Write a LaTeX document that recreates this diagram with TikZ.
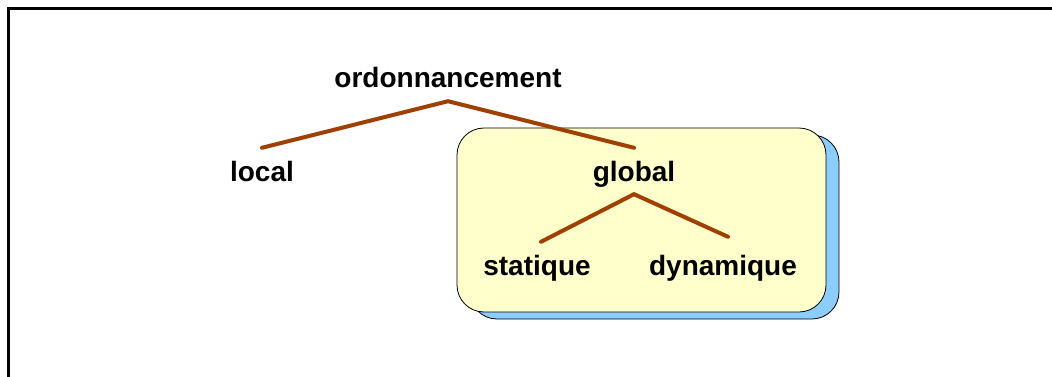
\documentclass[tikz,border=0pt]{standalone}
\usepackage{fontspec}
\setmainfont{Liberation Sans}
\begin{document}
\begin{tikzpicture}[x=1pt,y=-1pt,
  lbl/.style={font=\fontsize{28}{32}\selectfont\bfseries, text height=20pt, text depth=0pt,
              inner xsep=0pt, inner ysep=13pt, anchor=base},
  conn/.style={draw=brownline, line width=4pt, line cap=round, line join=miter},
  panel/.style={draw=black, line width=0.8pt, rounded corners=27pt}]
\definecolor{brownline}{RGB}{160,64,0}
\definecolor{panelfill}{RGB}{255,255,204}
\definecolor{shadowfill}{RGB}{140,204,255}
\useasboundingbox (0,0) rectangle (1052,377);
% frame
\begin{scope}
\clip (0,0) rectangle (1052,377);
\draw[line width=3pt] (8.5,380) -- (8.5,8.5) -- (1056,8.5);
\end{scope}
% panel with shadow
\draw[panel, fill=shadowfill] (470,135) rectangle (839,319);
\draw[panel, fill=panelfill] (457,128) rectangle (826,312);
% labels
\node[lbl] (ord) at (448,88) {ordonnancement};
\node[lbl] (loc) at (262,181) {local};
\node[lbl] (glo) at (634,181) {global};
\node[lbl] (sta) at (537,275) {statique};
\node[lbl] (dyn) at (723,275) {dynamique};
% connectors
\draw[conn] (loc.north) -- (ord.south) -- (glo.north);
\draw[conn] ([xshift=4pt]sta.north) -- (glo.south) -- ([xshift=5pt,yshift=5pt]dyn.north);
\end{tikzpicture}
\end{document}
